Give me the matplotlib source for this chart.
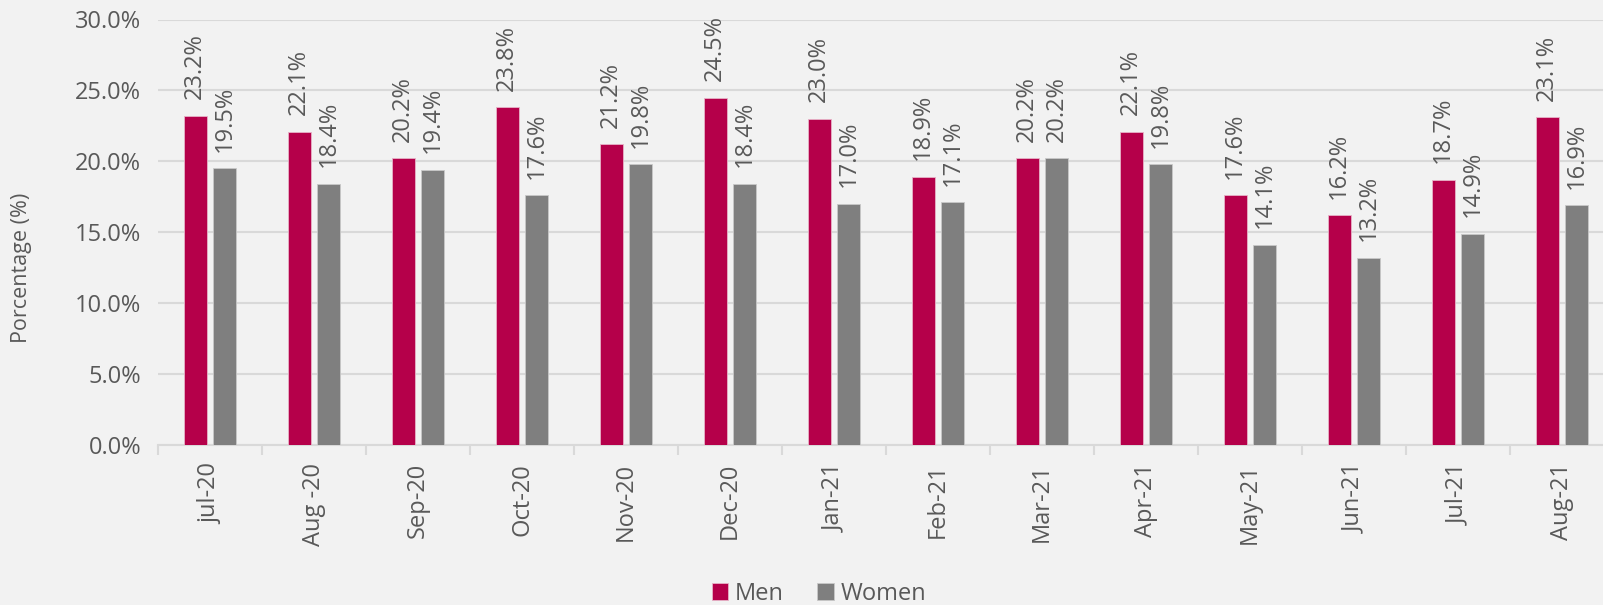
import numpy as np
import matplotlib
matplotlib.use("Agg")
import matplotlib.pyplot as plt
from matplotlib.ticker import FuncFormatter, FixedLocator

months = ["jul-20", "Aug -20", "Sep-20", "Oct-20", "Nov-20", "Dec-20", "Jan-21",
          "Feb-21", "Mar-21", "Apr-21", "May-21", "Jun-21", "Jul-21", "Aug-21"]
men = [23.2, 22.1, 20.2, 23.8, 21.2, 24.5, 23.0, 18.9, 20.2, 22.1, 17.6, 16.2, 18.7, 23.1]
women = [19.5, 18.4, 19.4, 17.6, 19.8, 18.4, 17.0, 17.1, 20.2, 19.8, 14.1, 13.2, 14.9, 16.9]

plt.rcParams['font.family'] = ['Open Sans', 'DejaVu Sans']
txt = '#595959'
bg = '#F2F2F2'
c_men = '#B5004A'
c_women = '#7F7F7F'

fig = plt.figure(figsize=(16.03, 6.05), dpi=100, facecolor=bg)
ax = fig.add_axes([158 / 1603, 1 - 445 / 605, 1 - 158 / 1603, (445 - 19.5) / 605])
ax.set_facecolor(bg)

x = np.arange(len(months))
off = 0.143
w = 0.22
b1 = ax.bar(x - off, men, w, color=c_men, edgecolor='#E7B3C8', linewidth=0.6, zorder=3, label='Men')
b2 = ax.bar(x + off, women, w, color=c_women, edgecolor='#C8C8C8', linewidth=0.6, zorder=3, label='Women')

for bars, vals in ((b1, men), (b2, women)):
    for r, v in zip(bars, vals):
        ax.annotate(f"{v:.1f}%", (r.get_x() + r.get_width() / 2, v), xytext=(0, 12),
                    textcoords='offset points', rotation=90, ha='center', va='bottom',
                    fontsize=17, color=txt)

ax.set_ylim(0, 30)
ax.set_xlim(-0.5, (1603 - 158) / 104 - 0.5)
ax.set_yticks(np.arange(0, 31, 5))
ax.yaxis.set_major_formatter(FuncFormatter(lambda v, p: f"{v:.1f}%"))
ax.grid(axis='y', color='#D9D9D9', linewidth=1.5, zorder=0)
ax.tick_params(axis='y', length=0, labelsize=17, labelcolor=txt, pad=12)

ax.set_xticks(x)
ax.set_xticklabels(months, rotation=90, fontsize=17, color=txt)
ax.tick_params(axis='x', which='major', length=0, pad=13)
ax.xaxis.set_minor_locator(FixedLocator(np.arange(-0.5, len(months), 1)))
ax.tick_params(axis='x', which='minor', length=7, width=1.5, color='#D9D9D9')

for s in ('left', 'right', 'top'):
    ax.spines[s].set_visible(False)
ax.spines['bottom'].set_color('#D9D9D9')
ax.spines['bottom'].set_linewidth(1.5)

fig.text(22 / 1603, 1 - 268 / 605, 'Porcentage (%)', rotation=90, ha='center', va='center',
         fontsize=15.5, color=txt)

fig.legend(handles=[b1, b2], loc='center', bbox_to_anchor=(819 / 1603, 1 - 594 / 605),
           ncol=2, frameon=False, fontsize=17, labelcolor=txt, handlelength=0.7,
           handleheight=0.7, handletextpad=0.3, columnspacing=1.4, borderpad=0)

fig.savefig('out.png', dpi=100, facecolor=bg)
